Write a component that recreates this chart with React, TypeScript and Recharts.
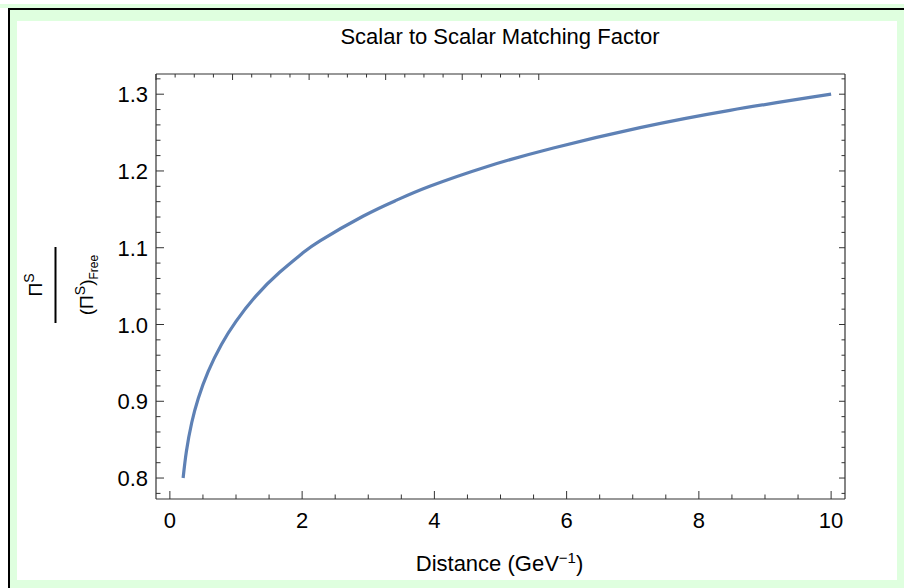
import React from 'react';
import { LineChart, Line, XAxis, YAxis } from 'recharts';

// Curve
const distance = [0.2, 0.25, 0.33, 0.43, 0.58, 0.78, 1.0, 1.3, 1.66, 2.0, 2.27, 2.92, 3.43, 3.93, 4.79, 5.8, 7.11, 8.47, 10];
const factor = [0.8, 0.835, 0.872, 0.904, 0.939, 0.974, 1.004, 1.037, 1.068, 1.0925, 1.109, 1.141, 1.162, 1.18, 1.2055, 1.23, 1.2565, 1.279, 1.3];

// Ticks
const xTicks = [0, 0.5, 1, 1.5, 2, 2.5, 3, 3.5, 4, 4.5, 5, 5.5, 6, 6.5, 7, 7.5, 8, 8.5, 9, 9.5, 10];
const xMajor = [0, 2, 4, 6, 8, 10];
const xMajorLabels = ['0', '2', '4', '6', '8', '10'];
const yTicks = [0.78, 0.8, 0.82, 0.84, 0.86, 0.88, 0.9, 0.92, 0.94, 0.96, 0.98, 1.0, 1.02, 1.04, 1.06, 1.08, 1.1, 1.12, 1.14, 1.16, 1.18, 1.2, 1.22, 1.24, 1.26, 1.28, 1.3, 1.32];
const yMajor = [0.8, 0.9, 1.0, 1.1, 1.2, 1.3];
const yMajorLabels = ['0.8', '0.9', '1.0', '1.1', '1.2', '1.3'];

const xDomain = [-0.21, 10.21];
const yDomain = [0.7727, 1.3263];

const title = 'Scalar to Scalar Matching Factor';
const xLabel = 'Distance (GeV';

const data = distance.map((d, i) => ({ distance: d, factor: factor[i] }));

const AXIS = '#333333';
const FONT = '"Liberation Sans", Arial, Helvetica, sans-serif';
const GREEN = '#dfffdf';

const majorIndex = (v: number, majors: number[]) => majors.findIndex((m) => Math.abs(m - v) < 1e-6);

const BottomTick = (props: any) => {
  const { x, y, payload } = props;
  const mi = majorIndex(payload.value, xMajor);
  const len = mi >= 0 ? 8 : 4.5;
  return (
    <g>
      <line x1={x} y1={y} x2={x} y2={y - len} stroke={AXIS} strokeWidth={1} />
      {mi >= 0 && (
        <text x={x} y={y + 29} textAnchor="middle" fontSize={22} fontFamily={FONT} fill="#000">
          {xMajorLabels[mi]}
        </text>
      )}
    </g>
  );
};

const TopTick = (props: any) => {
  const { x, y, payload } = props;
  const mi = majorIndex(payload.value, xMajor);
  const len = mi >= 0 ? 6 : 3.5;
  return <line x1={x} y1={y} x2={x} y2={y + len} stroke={AXIS} strokeWidth={1} />;
};

const LeftTick = (props: any) => {
  const { x, y, payload } = props;
  const mi = majorIndex(payload.value, yMajor);
  const len = mi >= 0 ? 8 : 4.5;
  return (
    <g>
      <line x1={x} y1={y} x2={x + len} y2={y} stroke={AXIS} strokeWidth={1} />
      {mi >= 0 && (
        <text x={x - 8} y={y + 8} textAnchor="end" fontSize={22} fontFamily={FONT} fill="#000">
          {yMajorLabels[mi]}
        </text>
      )}
    </g>
  );
};

const RightTick = (props: any) => {
  const { x, y, payload } = props;
  const mi = majorIndex(payload.value, yMajor);
  const len = mi >= 0 ? 6 : 3.5;
  return <line x1={x} y1={y} x2={x - len} y2={y} stroke={AXIS} strokeWidth={1} />;
};

const axisLine = { stroke: AXIS, strokeWidth: 1.2 };

export default function App() {
  return (
    <div style={{ position: 'absolute', left: 0, top: 0, width: 904, height: 588, background: '#fff', overflow: 'hidden' }}>
      <div style={{ position: 'absolute', left: 0, top: 4, width: 904, height: 4, background: GREEN }} />
      <div style={{ position: 'absolute', left: 10, top: 10, width: 894, height: 578, background: GREEN }} />
      <div style={{ position: 'absolute', left: 8, top: 8, width: 896, height: 2, background: '#000' }} />
      <div style={{ position: 'absolute', left: 8, top: 8, width: 2, height: 580, background: '#000' }} />
      <div style={{ position: 'absolute', left: 17, top: 21, width: 880, height: 559, background: '#fff' }} />
      <div style={{ position: 'absolute', left: 0, top: 0 }}>
        <LineChart width={904} height={588} data={data} margin={{ top: 73, right: 58, bottom: 0, left: 0 }}>
          <XAxis
            xAxisId="b"
            dataKey="distance"
            type="number"
            domain={xDomain}
            allowDataOverflow
            ticks={xTicks}
            interval={0}
            tickSize={0}
            tickMargin={0}
            tickLine={false}
            tick={BottomTick}
            axisLine={axisLine}
            height={89}
          />
          <XAxis
            xAxisId="t"
            orientation="top"
            type="number"
            domain={xDomain}
            allowDataOverflow
            ticks={xTicks}
            interval={0}
            tickSize={0}
            tickMargin={0}
            tickLine={false}
            tick={TopTick}
            axisLine={axisLine}
            height={1}
          />
          <YAxis
            yAxisId="l"
            type="number"
            domain={yDomain}
            allowDataOverflow
            ticks={yTicks}
            interval={0}
            tickSize={0}
            tickMargin={0}
            tickLine={false}
            tick={LeftTick}
            axisLine={axisLine}
            width={156}
          />
          <YAxis
            yAxisId="r"
            orientation="right"
            type="number"
            domain={yDomain}
            allowDataOverflow
            ticks={yTicks}
            interval={0}
            tickSize={0}
            tickMargin={0}
            tickLine={false}
            tick={RightTick}
            axisLine={axisLine}
            width={1}
          />
          <Line
            xAxisId="b"
            yAxisId="l"
            dataKey="factor"
            type="natural"
            stroke="#5E81B5"
            strokeWidth={3.2}
            dot={false}
            isAnimationActive={false}
          />
        </LineChart>
      </div>
      <svg width={904} height={588} style={{ position: 'absolute', left: 0, top: 0, pointerEvents: 'none' }}>
        <text x={500} y={43.5} textAnchor="middle" fontSize={22} fontFamily={FONT} fill="#000">
          {title}
        </text>
        <text x={499.5} y={571} textAnchor="middle" fontSize={22} fontFamily={FONT} fill="#000">
          {xLabel}
          <tspan dy={-8} fontSize={15}>−1</tspan>
          <tspan dy={8}>)</tspan>
        </text>
        <g transform="translate(0,285) rotate(-90)">
          <text x={0} y={42} textAnchor="middle" fontSize={19} fontFamily={FONT} fill="#000">
            Π<tspan dy={-8} fontSize={14}>S</tspan>
          </text>
          <line x1={-38} y1={55.5} x2={38} y2={55.5} stroke="#000" strokeWidth={2} />
          <text x={0} y={93} textAnchor="middle" fontSize={19} fontFamily={FONT} fill="#000">
            (Π<tspan dy={-8} fontSize={14}>S</tspan>
            <tspan dy={8}>)</tspan>
            <tspan dy={5} fontSize={12}>Free</tspan>
          </text>
        </g>
      </svg>
    </div>
  );
}
